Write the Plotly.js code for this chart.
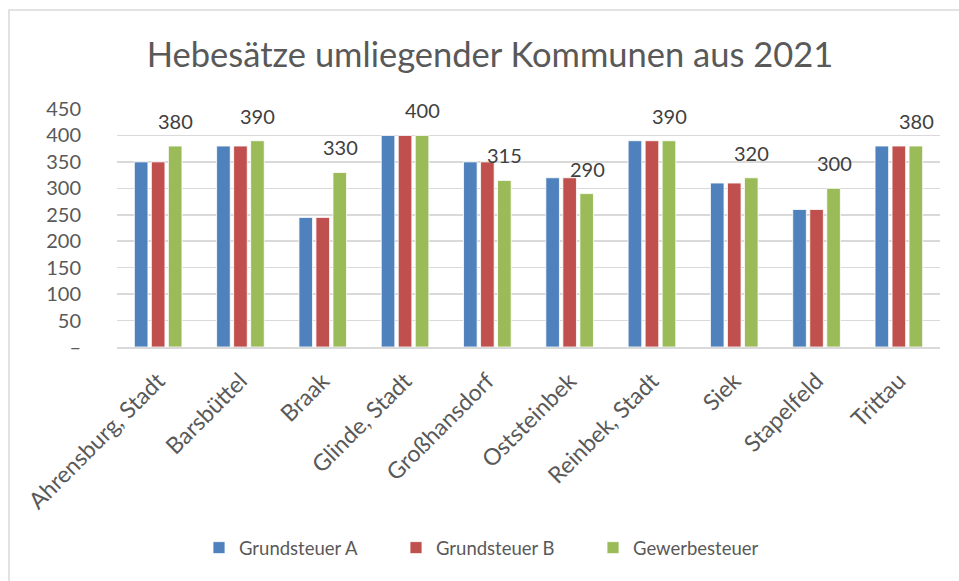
<!DOCTYPE html>
<html>
<head>
<meta charset="utf-8">
<script src="https://cdn.plot.ly/plotly-3.0.1.min.js"></script>
<style>
  html, body { margin: 0; padding: 0; background: #ffffff; }
  #chart { width: 959px; height: 581px; }
</style>
</head>
<body>
<div id="chart"></div>
<script>
const categories = ["Ahrensburg, Stadt", "Barsbüttel", "Braak", "Glinde, Stadt", "Großhansdorf",
                    "Oststeinbek", "Reinbek, Stadt", "Siek", "Stapelfeld", "Trittau"];
const grundsteuerA = [350, 380, 245, 400, 350, 320, 390, 310, 260, 380];
const grundsteuerB = [350, 380, 245, 400, 350, 320, 390, 310, 260, 380];
const gewerbesteuer = [380, 390, 330, 400, 315, 290, 390, 320, 300, 380];
const seriesNames = ["Grundsteuer A", "Grundsteuer B", "Gewerbesteuer"];
const yTickVals = [0, 50, 100, 150, 200, 250, 300, 350, 400, 450];
const yTickText = ["–", "50", "100", "150", "200", "250", "300", "350", "400", "450"];
const titleText = "Hebesätze umliegender Kommunen aus 2021";

const FONT = "Lato, 'Open Sans', sans-serif";
const TEXT = "#595959";
const colors = ["#4F81BD", "#C0504D", "#9BBB59"];
const seriesValues = [grundsteuerA, grundsteuerB, gewerbesteuer];

const traces = seriesValues.map((vals, i) => ({
  type: "bar",
  name: seriesNames[i],
  x: categories,
  y: vals,
  marker: { color: colors[i], line: { color: "#ffffff", width: 0.8 } },
  hoverinfo: "x+y+name"
}));

const annotations = categories.map((c, i) => ({
  x: c, y: gewerbesteuer[i], xref: "x", yref: "y",
  text: String(gewerbesteuer[i]),
  showarrow: false, xshift: 17.5, yshift: 25, yanchor: "middle", xanchor: "center",
  font: { family: FONT, size: 20, color: "#404040" }
}));

const layout = {
  width: 959, height: 581,
  margin: { l: 117, r: 19, t: 109, b: 234 },
  paper_bgcolor: "#ffffff", plot_bgcolor: "#ffffff",
  font: { family: FONT, color: TEXT },
  title: { text: titleText, font: { family: FONT, size: 34.5, color: TEXT },
           x: 0.511, xanchor: "center", y: 0.905, yanchor: "middle" },
  barmode: "group", bargap: 0.38, bargroupgap: 0.2,
  xaxis: {
    type: "category", tickangle: -45, showgrid: false, zeroline: false,
    showline: true, linecolor: "#d9d9d9", linewidth: 1.5, ticks: "",
    ticklabelstandoff: 10,
    tickfont: { family: FONT, size: 23, color: TEXT }
  },
  yaxis: {
    range: [0, 450], tickmode: "array", tickvals: yTickVals, ticktext: yTickText,
    showgrid: true, gridcolor: "#d9d9d9", gridwidth: 1.5, zeroline: false,
    showline: false, ticks: "", ticklabelstandoff: 35,
    tickfont: { family: FONT, size: 20, color: TEXT }
  },
  legend: {
    orientation: "h", x: (199 - 117) / 823, xanchor: "left", y: -0.845, yanchor: "middle",
    font: { family: FONT, size: 18.5, color: TEXT }, itemwidth: 30, traceorder: "normal",
    entrywidth: 152, entrywidthmode: "pixels"
  },
  annotations: annotations,
  shapes: [{
    type: "rect", xref: "paper", yref: "paper",
    x0: (9 - 117) / 823, x1: (975 - 117) / 823,
    y0: (347 - 600) / 238, y1: (347 - 10) / 238,
    line: { color: "#d9d9d9", width: 1.5 }, fillcolor: "rgba(0,0,0,0)", layer: "below"
  }],
  showlegend: true
};

Plotly.newPlot("chart", traces, layout, { displayModeBar: false, staticPlot: true });
</script>
</body>
</html>
